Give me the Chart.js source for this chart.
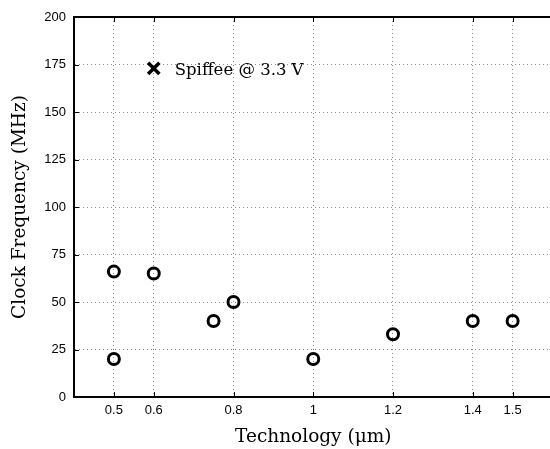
<!DOCTYPE html>
<html lang="en">
<head>
    <meta charset="UTF-8">
    <title>Clock Frequency vs Technology</title>
    <script src="https://cdn.jsdelivr.net/npm/chart.js"></script>
    <style>
        html, body {
            margin: 0;
            padding: 0;
            background: #ffffff;
            overflow: hidden;
        }
        #wrap {
            width: 564px;
            height: 449px;
        }
    </style>
</head>
<body>
    <div id="wrap"><canvas id="freqChart"></canvas></div>

    <script>
        // Process node (um) and reported clock frequency (MHz)
        const techX = [0.5, 0.5, 0.6, 0.75, 0.8, 1.0, 1.2, 1.4, 1.5];
        const clockMHz = [66, 20, 65, 40, 50, 20, 33, 40, 40];

        // Spiffee at 3.3 V
        const spiffeeX = [0.6];
        const spiffeeMHz = [173];
        const spiffeeLabel = 'Spiffee @ 3.3 V';

        // Tick labels
        const xTicks = [0.5, 0.6, 0.8, 1, 1.2, 1.4, 1.5];
        const yTicks = [0, 25, 50, 75, 100, 125, 150, 175, 200];

        const serif = '"DejaVu Serif", "Liberation Serif", serif';
        const sans = '"Liberation Sans", Arial, sans-serif';

        // MATLAB-style frame: top border, inward tick marks, point label
        const framePlugin = {
            id: 'frame',
            afterDraw(chart) {
                const { ctx, chartArea: a, scales } = chart;
                ctx.save();
                ctx.strokeStyle = '#000';
                ctx.lineWidth = 2;
                ctx.beginPath();
                ctx.moveTo(a.left - 1, a.top);
                ctx.lineTo(a.right + 2, a.top);
                ctx.stroke();

                ctx.lineWidth = 1;
                ctx.beginPath();
                xTicks.forEach(v => {
                    const px = Math.round(scales.x.getPixelForValue(v)) + 0.5;
                    ctx.moveTo(px, a.bottom);
                    ctx.lineTo(px, a.bottom - 5);
                    ctx.moveTo(px, a.top);
                    ctx.lineTo(px, a.top + 5);
                });
                yTicks.forEach(v => {
                    const py = Math.round(scales.y.getPixelForValue(v)) + 0.5;
                    ctx.moveTo(a.left, py);
                    ctx.lineTo(a.left + 5, py);
                });
                ctx.stroke();

                // label next to the Spiffee marker
                const pt = chart.getDatasetMeta(1).data[0];
                ctx.fillStyle = '#000';
                ctx.font = '16.5px ' + serif;
                ctx.textBaseline = 'middle';
                ctx.fillText(spiffeeLabel, pt.x + 21, pt.y + 2);
                ctx.restore();
            }
        };

        new Chart(document.getElementById('freqChart'), {
            type: 'scatter',
            data: {
                datasets: [
                    {
                        label: 'Designs',
                        data: techX.map((x, i) => ({ x: x, y: clockMHz[i] })),
                        pointStyle: 'circle',
                        pointRadius: 5.5,
                        pointBorderWidth: 3,
                        pointBorderColor: '#000',
                        pointBackgroundColor: 'rgba(0,0,0,0)'
                    },
                    {
                        label: 'Spiffee',
                        data: spiffeeX.map((x, i) => ({ x: x, y: spiffeeMHz[i] })),
                        pointStyle: 'crossRot',
                        pointRadius: 8,
                        pointBorderWidth: 3.5,
                        pointBorderColor: '#000'
                    }
                ]
            },
            options: {
                responsive: true,
                maintainAspectRatio: false,
                animation: false,
                layout: { padding: { top: 17, right: 0, left: 0, bottom: 0 } },
                plugins: {
                    legend: { display: false },
                    tooltip: { enabled: false }
                },
                scales: {
                    x: {
                        type: 'linear',
                        min: 0.4,
                        max: 1.6,
                        afterBuildTicks(scale) {
                            scale.ticks = xTicks.map(v => ({ value: v }));
                        },
                        afterFit(scale) { scale.height = 52; },
                        ticks: {
                            color: '#000',
                            font: { family: sans, size: 13 },
                            padding: 6,
                            maxRotation: 0,
                            callback: v => String(v)
                        },
                        grid: {
                            color: '#8a8a8a',
                            lineWidth: 1,
                            drawTicks: false
                        },
                        border: { display: true, color: '#000', width: 2, dash: [1, 3] },
                        title: {
                            display: true,
                            text: 'Technology (μm)',
                            color: '#000',
                            font: { family: serif, size: 18.5 },
                            padding: { top: 0, bottom: 1 }
                        }
                    },
                    y: {
                        min: 0,
                        max: 200,
                        afterBuildTicks(scale) {
                            scale.ticks = yTicks.map(v => ({ value: v }));
                        },
                        afterFit(scale) { scale.width = 74; },
                        ticks: {
                            color: '#000',
                            font: { family: sans, size: 13 },
                            padding: 8
                        },
                        grid: {
                            color: '#8a8a8a',
                            lineWidth: 1,
                            drawTicks: false
                        },
                        border: { display: true, color: '#000', width: 2, dash: [1, 3] },
                        title: {
                            display: true,
                            text: 'Clock Frequency (MHz)',
                            color: '#000',
                            font: { family: serif, size: 18.5 },
                            padding: { top: 9, bottom: 0 }
                        }
                    }
                }
            },
            plugins: [framePlugin]
        });
    </script>
</body>
</html>
